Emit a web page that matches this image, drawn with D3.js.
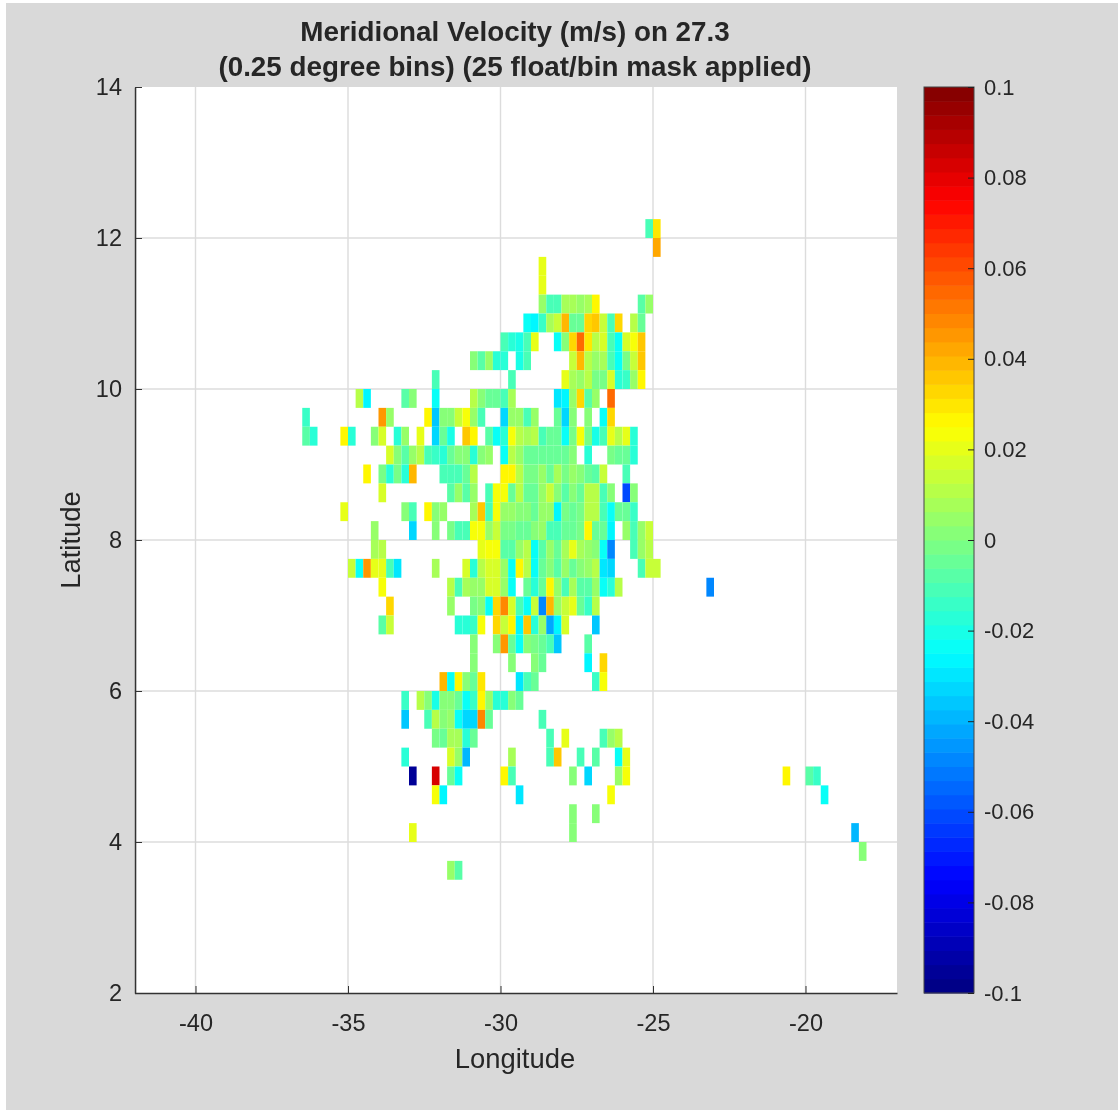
<!DOCTYPE html>
<html>
<head>
<meta charset="utf-8">
<script src="https://cdn.jsdelivr.net/npm/d3@7"></script>
<style>
  html, body { margin: 0; padding: 0; background: #fff; }
  svg { display: block; filter: blur(0.6px); }
  text { font-family: "Liberation Sans", Arial, sans-serif; fill: #262626; }
</style>
</head>
<body>
<div id="chart"></div>
<script>
// bin data: each segment is a run of 0.25 degree cells in one latitude row
const _ = null;
const segLat = [
  12, 11.75, 11.5, 11.25, 11, 11, 10.75, 10.5, 10.25, 10, 10, 10,
  9.75, 9.75, 9.75, 9.75, 9.75, 9.5, 9.5, 9.25, 9, 8.75, 8.5, 8.25, 8,
  7.75, 7.75, 7.5, 7.5, 7.25, 7.25, 7, 7, 6.75, 6.5, 6.25, 6, 6,
  5.75, 5.5, 5.25, 5, 4.75, 4.75, 4.5, 4.5, 4.5, 4.5, 4.25, 4, 4, 4, 3.75, 3.5
];
const segLon = [
  -25.25, -25, -28.75, -28.75, -28.75, -25.5, -29.25, -30, -31, -32.25, -29.75, -28,
  -34.75, -33.25, -32.25, -31, -28.25, -36.5, -34, -36.5, -33.75, -34.5, -34, -35.25, -34.25,
  -34.25, -30.75, -35, -31.25, -34, -23.25, -33.75, -31.75, -34, -31, -31, -32, -27,
  -33.25, -33.25, -32.25, -33.25, -33, -20.75, -32.25, -29.5, -26.5, -19.5, -27.75, -33, -27.75, -18.5, -18.25, -31.75
];
const segVel = [
  [-.012, .031],
  [.043],
  [.02],
  [.02],
  [.004, -.012, -.01, .008, .008, .005, .008, .026],
  [-.008, .006],
  [-.022, -.025, -.014, .008, .014, .038, -.006, -.006, .033, .035, .015, -.012, .033, _, .01, -.004],
  [-.012, -.018, -.02, -.012, .02, _, _, -.024, 0, .032, .056, .03, .012, .016, -.012, -.024, .018, .022, .035],
  [.002, -.008, .006, -.017, -.018, _, -.02, -.012, _, _, _, _, _, .015, .04, .01, .006, .008, -.012, -.022, -.002, .014, .035],
  [-.01],
  [-.012],
  [.02, .008, .004, .012, -.002, -.002, .018, -.018, -.015, .006, .026],
  [.012, -.025],
  [-.008, 0],
  [-.024],
  [.012, .002, -.004, -.006, -.012, .008],
  [-.03, -.026, .004, .032, -.008, .006, _, .056],
  [-.014],
  [.045, .006, _, _, _, _, .027, -.035, 0, .003, .014, .022, .004, -.012, _, _, -.034, .004, .006, -.012, .006, _, _, -.004, -.032, 0, _, 0, _, -.024, .032],
  [-.007, -.018, _, _, _, .026, -.016, _, _, .002, .018, _, -.018, .004, _, .02, _, -.032, -.006, -.02, _, .036, .026, _, -.008, -.024, -.018, .024, .01, .009, .011, -.01, -.004, -.004, -.024, -.002, .024, -.002, -.021, -.012, .02, .012, .02, -.016],
  [.018, .002, -.008, .004, .012, -.012, -.014, -.016, -.004, .002, .002, -.016, .002, .004, _, -.024, .012, .006, -.004, -.005, -.006, -.006, -.006, -.004, .002, _, -.018, _, _, -.002, -.004, -.004, -.018],
  [.026, _, -.002, -.016, -.002, -.016, .04, _, _, _, -.012, -.012, -.012, -.004, .01, _, _, _, .026, .025, .012, -.002, -.002, .004, -.006, .008, -.002, .006, 0, -.004, -.008, .014, _, _, -.01],
  [.016, _, _, _, _, _, _, _, _, -.008, .004, -.008, .006, _, -.01, .022, .022, -.004, .012, -.006, -.006, .004, .014, .002, -.008, 0, -.006, .012, .012, -.01, 0, _, -.062, .002],
  [.02, _, _, _, _, _, _, _, 0, -.012, _, .026, 0, .006, _, _, _, .008, .036, -.012, .024, .004, .004, .002, .002, -.006, .006, .006, -.026, -.002, -.004, -.002, .01, .01, -.012, -.022, -.006, -.006, -.015],
  [.004, _, _, _, _, -.032, _, _, 0, _, -.002, -.012, -.012, .024, .024, .006, .014, -.002, -.002, -.004, -.004, .002, .006, -.012, -.012, -.004, -.004, -.002, .026, -.006, -.006, -.026, _, .004, -.012, .006, .014],
  [.008, .012],
  [.02, .024, .024, -.008, -.008, .004, .012, -.022, -.008, .004, -.006, .008, .02, .008, .006, .002, -.024, -.05, _, _, -.01, .004, .01],
  [.014, -.022, .044, .02, .02, -.012, -.03, _, _, _, _, .008],
  [.016, -.016, .012, .016, .016, .004, -.022, .026, .01, -.022, -.004, 0, -.008, .004, -.004, .002, .006, .01, -.03, -.032, _, _, _, -.01, .014, .014],
  [.024, _, _, _, _, _, _, _, _, .012, -.012, .008, .004, .004, .018, .018, .004, -.024, _, -.006, -.018, -.006, .026, .004, -.012, .008, -.008, -.008, .006, -.024, -.016, .012],
  [-.048],
  [.032],
  [.004, _, _, -.002, 0, -.022, .032, .048, .016, -.01, -.024, .014, -.048, .038, .006, .014, .02, -.006, -.014, .012],
  [-.008, .014, _, _, _, _, _, _, _, _, -.016, -.016, -.014, .022, _, .032, .014, .026, -.028, .037, -.016, .004, -.042, -.026, .018, _, _, _, -.036],
  [.002, _, _, .002, .045, -.006, -.024, .002, -.002, -.004, -.01, -.036, _, _, _, -.008],
  [.002, _, _, _, _, .002, _, _, 0, -.006, _, _, _, _, _, -.026, _, .033],
  [.04, -.024, .026, .002, -.004, .03, _, _, _, _, -.03, -.012, -.006],
  [-.014, .022],
  [-.014, _, .012, .002, -.02, 0, 0, -.004, -.024, -.014, .028, .006, -.016, -.016, .002, -.006],
  [-.036, _, _, -.012, .012, 0, .006, -.024, -.032, -.032, .05, -.004, _, _, _, _, _, _, -.012],
  [-.002, -.006, .008, .008, -.016, -.006, _, _, _, _, _, _, _, _, _, -.01, _, .02, _, _, _, _, -.012, .006, .012],
  [-.016, _, _, _, _, _, .018, .006, -.04, _, _, _, _, _, .008, _, _, _, _, -.01, .036, _, _, -.012, _, -.008, _, _, -.024, .02],
  [-.095, _, _, .082, _, -.006, -.022, _, _, _, _, _, .028, -.012, _, _, _, _, _, _, _, .002, _, -.032, _, _, _, .004, .022],
  [.026, _, _, -.008, -.014],
  [.022, -.028],
  [-.03],
  [.024],
  [-.024],
  [.002, _, _, .002],
  [.019],
  [.002],
  [-.04],
  [.002],
  [.004, -.008]
];

const titleLines = ["Meridional Velocity (m/s) on 27.3", "(0.25 degree bins) (25 float/bin mask applied)"];
const lonTicks = [-40, -35, -30, -25, -20];
const latTicks = [2, 4, 6, 8, 10, 12, 14];
const cbTicks = [-0.1, -0.08, -0.06, -0.04, -0.02, 0, 0.02, 0.04, 0.06, 0.08, 0.1];

const binSize = 0.25;
const nColors = 64;

// matlab jet
function jet(t) {
  const c = v => Math.round(255 * Math.max(0, Math.min(1, v)));
  const r = c(Math.min(4 * t - 1.5, -4 * t + 4.5));
  const g = c(Math.min(4 * t - 0.5, -4 * t + 3.5));
  const b = c(Math.min(4 * t + 0.5, -4 * t + 2.5));
  return "rgb(" + r + "," + g + "," + b + ")";
}
const levels = d3.range(nColors);
const levelColors = levels.map(i => jet((i + 0.5) / nColors));
const colorScale = d3.scaleQuantize().domain([-0.1, 0.1]).range(levelColors);

const svg = d3.select("#chart").append("svg")
    .attr("width", 1118)
    .attr("height", 1111);

// figure background
svg.append("rect")
    .attr("x", 6).attr("y", 3)
    .attr("width", 1112).attr("height", 1107)
    .attr("fill", "#d9d9d9");

const xScale = d3.scaleLinear().domain([-42, -17]).range([134.5, 897]);
const yScale = d3.scaleLinear().domain([2, 14]).range([993, 87]);

svg.append("rect")
    .attr("x", xScale(-42)).attr("y", yScale(14))
    .attr("width", xScale(-17) - xScale(-42))
    .attr("height", yScale(2) - yScale(14))
    .attr("fill", "#fff");

// grid
const gridColor = "#dcdcdc";
svg.append("g").selectAll("line").data(lonTicks).enter().append("line")
    .attr("x1", d => xScale(d)).attr("x2", d => xScale(d))
    .attr("y1", yScale(14)).attr("y2", yScale(2))
    .attr("stroke", gridColor).attr("stroke-width", 1.4);
svg.append("g").selectAll("line").data(latTicks.slice(1, -1)).enter().append("line")
    .attr("x1", xScale(-42)).attr("x2", xScale(-17))
    .attr("y1", d => yScale(d)).attr("y2", d => yScale(d))
    .attr("stroke", gridColor).attr("stroke-width", 1.4);

// flatten segments into cells
const cells = [];
segVel.forEach(function(vals, s) {
  vals.forEach(function(v, i) {
    if (v !== null) cells.push({lat: segLat[s], lon: segLon[s] + i * binSize, v: v});
  });
});

svg.append("g").selectAll("rect")
    .data(cells)
    .enter()
    .append("rect")
    .attr("x", d => xScale(d.lon))
    .attr("y", d => yScale(d.lat + binSize))
    .attr("width", d => xScale(d.lon + binSize) - xScale(d.lon))
    .attr("height", d => yScale(d.lat) - yScale(d.lat + binSize))
    .attr("fill", d => colorScale(d.v));

// axes
const xAxis = d3.axisBottom(xScale).tickValues(lonTicks).tickSize(-7).tickSizeOuter(0)
    .tickPadding(21).tickFormat(d => String(d));
const yAxis = d3.axisLeft(yScale).tickValues(latTicks).tickSize(-7).tickSizeOuter(0)
    .tickPadding(13).tickFormat(d => String(d));

const gx = svg.append("g").attr("transform", "translate(0,993)").call(xAxis);
const gy = svg.append("g").attr("transform", "translate(135,0)").call(yAxis);
[gx, gy].forEach(function(g) {
  g.selectAll("text").style("font-size", "23.5px").style("fill", "#262626");
  g.selectAll("line").attr("stroke", "#333");
  g.select(".domain").attr("stroke", "#333").attr("stroke-width", 1.6);
});

// colorbar
const cbX = 924, cbW = 50;
const cbScale = d3.scaleLinear().domain([-0.1, 0.1]).range([993, 87]);
const cbStep = (cbScale(-0.1) - cbScale(0.1)) / nColors;
svg.append("g").selectAll("rect")
    .data(levels)
    .enter()
    .append("rect")
    .attr("x", cbX)
    .attr("y", d => cbScale(-0.1) - (d + 1) * cbStep)
    .attr("width", cbW)
    .attr("height", cbStep + 0.5)
    .attr("fill", d => levelColors[d]);
svg.append("rect")
    .attr("x", cbX).attr("y", 87)
    .attr("width", cbW).attr("height", 906)
    .attr("fill", "none").attr("stroke", "#444").attr("stroke-width", 1);

const cbAxis = d3.axisRight(cbScale).tickValues(cbTicks).tickSize(-6).tickSizeOuter(0)
    .tickPadding(10).tickFormat(d => String(d));
const gc = svg.append("g").attr("transform", "translate(" + (cbX + cbW) + ",0)").call(cbAxis);
gc.select(".domain").remove();
gc.selectAll("line").attr("stroke", "#222");
gc.selectAll("text").style("font-size", "22px").style("fill", "#262626");

// titles and labels
svg.append("g").selectAll("text").data(titleLines).enter().append("text")
    .attr("x", 515)
    .attr("y", (d, i) => 41 + i * 35)
    .attr("text-anchor", "middle")
    .style("font-size", "27.8px")
    .style("font-weight", "bold")
    .text(d => d);

svg.append("text")
    .attr("x", 515).attr("y", 1068)
    .attr("text-anchor", "middle")
    .style("font-size", "27.4px")
    .text("Longitude");

svg.append("text")
    .attr("transform", "translate(80,540) rotate(-90)")
    .attr("text-anchor", "middle")
    .style("font-size", "27.4px")
    .text("Latitude");
</script>
</body>
</html>
